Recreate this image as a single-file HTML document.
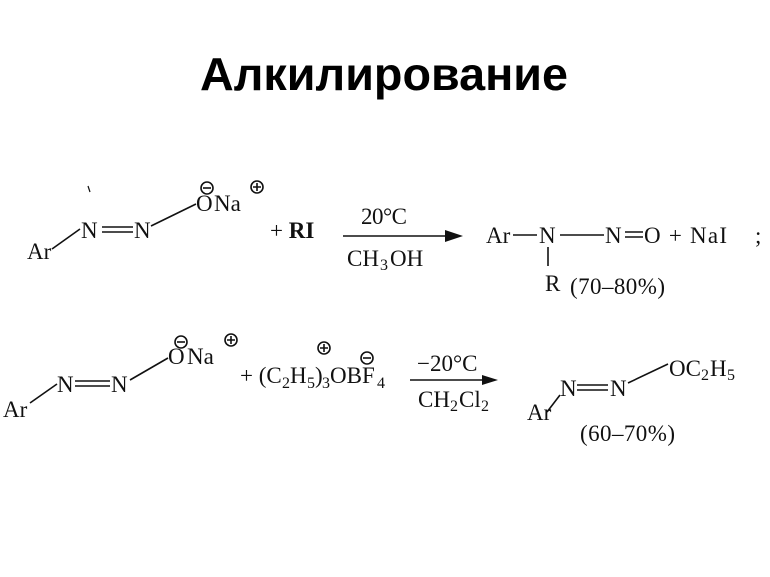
<!DOCTYPE html>
<html><head><meta charset="utf-8"><style>
body{margin:0;background:#fff;width:770px;height:577px;overflow:hidden}
svg{display:block}
.t{font-family:"Liberation Serif",serif;font-size:23px;fill:#111}
.s{font-size:16px}
</style></head><body>
<svg width="770" height="577" viewBox="0 0 770 577">
<text x="384" y="90" text-anchor="middle" font-family="Liberation Sans,sans-serif" font-weight="bold" font-size="46" fill="#000" textLength="368" lengthAdjust="spacingAndGlyphs">Алкилирование</text>
<g stroke="#111" stroke-width="1.6" fill="none">
<path d="M52 249 L80 229"/>
<path d="M102 227 H133 M102 232 H133"/>
<path d="M151 226 L196 204"/>
<circle cx="207" cy="188" r="6"/><path d="M203 188h8"/>
<circle cx="257" cy="187" r="6"/><path d="M253 187h8M257 183v8"/>
<path d="M88 186 l2 6" stroke-width="1.2"/>
<path d="M343 236 H445"/>
<path d="M513 235 H537 M560 235 H604 M625 232 H643 M625 237 H643"/>
<path d="M548 247 V266"/>
<path d="M30 403 L57 384"/>
<path d="M75 381 H110 M75 386 H110"/>
<path d="M130 380 L168 358"/>
<circle cx="181" cy="342" r="6"/><path d="M177 342h8"/>
<circle cx="231" cy="340" r="6"/><path d="M227 340h8M231 336v8"/>
<circle cx="324" cy="348" r="6"/><path d="M320 348h8M324 344v8"/>
<circle cx="367" cy="358" r="6"/><path d="M363 358h8"/>
<path d="M410 380 H482"/>
<path d="M547 412 L560 395"/>
<path d="M577 385 H608 M577 390 H608"/>
<path d="M628 383 L668 364"/>
</g>
<path d="M445 230 L463 236 L445 242 Z" fill="#111"/>
<path d="M482 375 L498 380 L482 385 Z" fill="#111"/>
<g class="t">
<text x="27" y="259">Ar</text>
<text x="81" y="238">N</text>
<text x="134" y="238">N</text>
<text x="196" y="211">O</text>
<text x="214" y="211">Na</text>
<text x="270" y="238">+ <tspan font-weight="bold">RI</tspan></text>
<text x="361" y="224" textLength="46">20°C</text>
<text x="347" y="266">CH</text><text class="s" x="380" y="270">3</text><text x="390" y="266">OH</text>
<text x="486" y="243">Ar</text>
<text x="539" y="243">N</text>
<text x="605" y="243">N</text>
<text x="644" y="243" textLength="83">O + NaI</text>
<text x="755" y="243">;</text>
<text x="545" y="291">R</text>
<text x="570" y="294" textLength="95">(70–80%)</text>
<text x="3" y="417">Ar</text>
<text x="57" y="392">N</text>
<text x="111" y="392">N</text>
<text x="168" y="364">O</text>
<text x="187" y="364">Na</text>
<text x="240" y="383">+ (C</text><text class="s" x="282" y="388">2</text><text x="290" y="383">H</text><text class="s" x="307" y="388">5</text><text x="315" y="383">)</text><text class="s" x="322" y="388">3</text><text x="330" y="383">OBF</text><text class="s" x="377" y="388">4</text>
<text x="417" y="371">−20°C</text>
<text x="418" y="407">CH</text><text class="s" x="450" y="411">2</text><text x="459" y="407">Cl</text><text class="s" x="481" y="411">2</text>
<text x="527" y="420">Ar</text>
<text x="560" y="396">N</text>
<text x="610" y="396">N</text>
<text x="669" y="376">OC</text><text class="s" x="701" y="380">2</text><text x="710" y="376">H</text><text class="s" x="727" y="380">5</text>
<text x="580" y="441" textLength="95">(60–70%)</text>
</g>
</svg>
</body></html>
